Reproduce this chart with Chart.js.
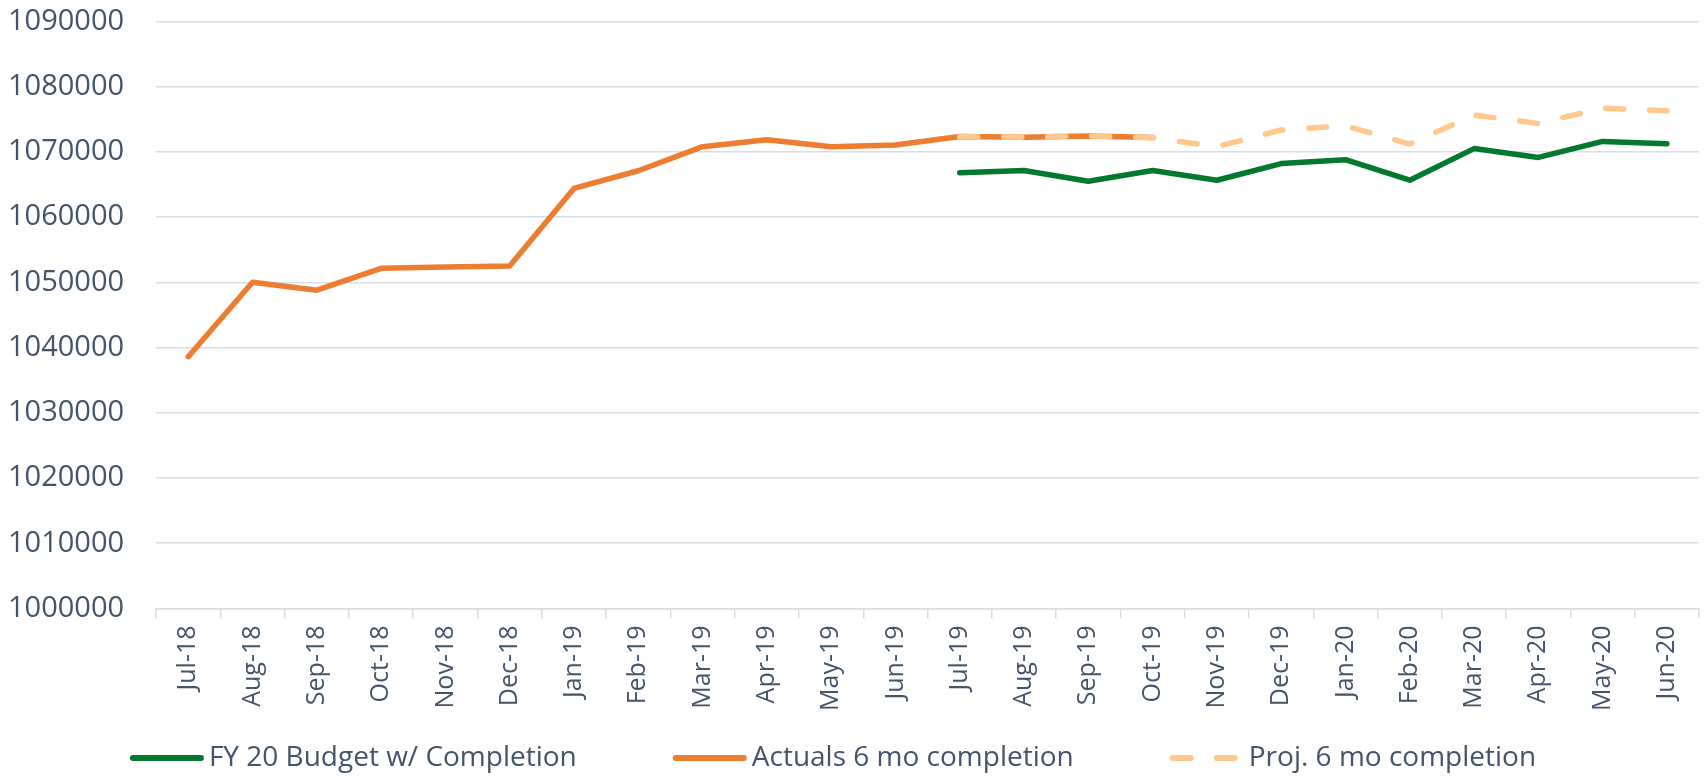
<!DOCTYPE html>
<html>
<head>
<meta charset="utf-8">
<script src="https://cdn.jsdelivr.net/npm/chart.js@4/dist/chart.umd.min.js"></script>
<style>
  html, body { margin: 0; padding: 0; background: #fff; }
  #wrap { width: 1704px; height: 776px; position: relative; }
</style>
</head>
<body>
<div id="wrap"><canvas id="chartBudget"></canvas></div>
<script>
const months = ['Jul-18', 'Aug-18', 'Sep-18', 'Oct-18', 'Nov-18', 'Dec-18', 'Jan-19', 'Feb-19',
    'Mar-19', 'Apr-19', 'May-19', 'Jun-19', 'Jul-19', 'Aug-19', 'Sep-19', 'Oct-19',
    'Nov-19', 'Dec-19', 'Jan-20', 'Feb-20', 'Mar-20', 'Apr-20', 'May-20', 'Jun-20'];

const budgetFY20 = [null, null, null, null, null, null, null, null, null, null, null, null,
    1066800, 1067150, 1065500, 1067150, 1065650, 1068200, 1068800, 1065650, 1070500, 1069150, 1071600, 1071250];

const actuals6mo = [1038600, 1050000, 1048800, 1052150, 1052350, 1052500, 1064400, 1067100,
    1070800, 1071850, 1070800, 1071050, 1072350, 1072250, 1072450, 1072200,
    null, null, null, null, null, null, null, null];

const proj6mo = [null, null, null, null, null, null, null, null, null, null, null, null,
    1072350, 1072250, 1072450, 1072150, 1070800, 1073350, 1074000, 1071200, 1075650, 1074350, 1076700, 1076300];

const yMin = 1000000;
const yMax = 1090000;
const yStep = 10000;

const textColor = '#44546A';
const gridColor = '#D9DEE6';
const fontFamily = "'Open Sans', sans-serif";

const ctx = document.getElementById('chartBudget').getContext('2d');

const data = {
    labels: months,
    datasets: [{
        label: 'FY 20 Budget w/ Completion',
        data: budgetFY20,
        borderColor: '#03782F',
        backgroundColor: '#03782F',
        borderWidth: 5.5,
        order: 1
    }, {
        label: 'Actuals 6 mo completion',
        data: actuals6mo,
        borderColor: '#ED7D31',
        backgroundColor: '#ED7D31',
        borderWidth: 5.5,
        order: 2
    }, {
        label: 'Proj. 6 mo completion',
        data: proj6mo,
        borderColor: '#FFC88C',
        backgroundColor: '#FFC88C',
        borderWidth: 5.5,
        borderDash: [18, 26],
        order: 0
    }]
};

// excel style legend: line sample right next to the text
const lineLegend = {
    id: 'lineLegend',
    afterDraw(chart) {
        const c = chart.ctx;
        const sampleLen = 74;
        const textGap = 5;
        const itemGap = 96;
        const y = 758;
        c.save();
        c.font = '28px ' + fontFamily;
        const widths = chart.data.datasets.map((ds) => c.measureText(ds.label).width);
        let total = itemGap * (widths.length - 1);
        widths.forEach((w) => { total += sampleLen + textGap + w; });
        let x = (chart.width - total) / 2 - 19;
        chart.data.datasets.forEach((ds, i) => {
            c.beginPath();
            c.lineWidth = 6;
            c.lineCap = 'round';
            c.strokeStyle = ds.borderColor;
            c.setLineDash(ds.borderDash || []);
            c.moveTo(x + 3, y);
            c.lineTo(x + sampleLen - 3, y);
            c.stroke();
            c.setLineDash([]);
            c.fillStyle = textColor;
            c.textAlign = 'left';
            c.textBaseline = 'middle';
            c.fillText(ds.label, x + sampleLen + textGap, y);
            x += sampleLen + textGap + widths[i] + itemGap;
        });
        c.restore();
    }
};

const myChart = new Chart(ctx, {
    type: 'line',
    data: data,
    options: {
        responsive: true,
        maintainAspectRatio: false,
        animation: false,
        layout: { padding: { left: 4, right: 4, top: 0, bottom: 58 } },
        elements: {
            point: { radius: 0, hoverRadius: 0 },
            line: { tension: 0, borderCapStyle: 'round', borderJoinStyle: 'round' }
        },
        scales: {
            x: {
                offset: true,
                grid: {
                    offset: true,
                    drawOnChartArea: false,
                    drawTicks: true,
                    tickLength: 10,
                    color: gridColor,
                    lineWidth: 1.5
                },
                border: { display: true, color: gridColor, width: 1.5 },
                ticks: {
                    color: textColor,
                    font: { family: fontFamily, size: 25 },
                    minRotation: 90,
                    maxRotation: 90,
                    autoSkip: false,
                    padding: 7
                }
            },
            y: {
                min: yMin,
                max: yMax,
                grid: {
                    color: gridColor,
                    lineWidth: 1.5,
                    drawTicks: true,
                    tickLength: 28,
                    tickColor: 'rgba(0,0,0,0)'
                },
                border: { display: false },
                ticks: {
                    stepSize: yStep,
                    color: textColor,
                    font: { family: fontFamily, size: 29 },
                    padding: 4,
                    callback: (v) => String(v)
                }
            }
        },
        plugins: {
            tooltip: { enabled: false },
            legend: { display: false }
        }
    },
    plugins: [lineLegend]
});
</script>
</body>
</html>
